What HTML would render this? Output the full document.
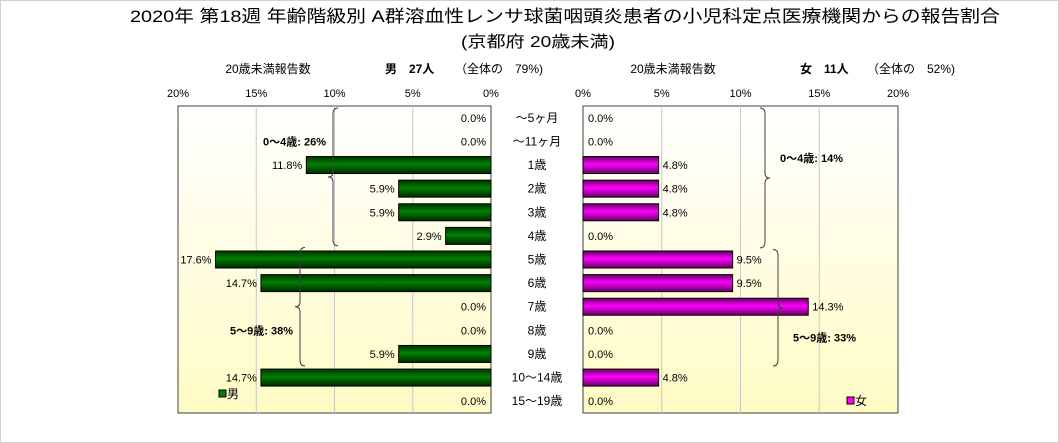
<!DOCTYPE html>
<html><head><meta charset="utf-8">
<style>
body{margin:0;background:#fff;}
svg{display:block;font-family:"Liberation Sans","Noto Sans CJK JP",sans-serif;}
</style></head>
<body>
<svg id="c" width="1059" height="443" viewBox="0 0 1059 443" xmlns="http://www.w3.org/2000/svg">
<defs>
<linearGradient id="bg" x1="0" y1="0" x2="0" y2="1"><stop offset="0" stop-color="#ffffff"/><stop offset="1" stop-color="#fffbc4"/></linearGradient>
<linearGradient id="gm" x1="0" y1="0" x2="0" y2="1"><stop offset="0" stop-color="#003300"/><stop offset="0.45" stop-color="#008000"/><stop offset="1" stop-color="#002800"/></linearGradient>
<linearGradient id="gf" x1="0" y1="0" x2="0" y2="1"><stop offset="0" stop-color="#660066"/><stop offset="0.45" stop-color="#ff00ff"/><stop offset="1" stop-color="#660066"/></linearGradient>
</defs>
<rect x="0.5" y="0.5" width="1058" height="442" fill="none" stroke="#d0d0d0"/>
<text x="565" y="22" font-size="17" text-anchor="middle" textLength="870" lengthAdjust="spacingAndGlyphs">2020年 第18週 年齢階級別 A群溶血性レンサ球菌咽頭炎患者の小児科定点医療機関からの報告割合</text>
<text x="538" y="47" font-size="16" text-anchor="middle" textLength="154" lengthAdjust="spacingAndGlyphs">(京都府 20歳未満)</text>
<text x="268" y="73" font-size="12" text-anchor="middle">20歳未満報告数</text>
<text x="385" y="73" font-size="12" font-weight="bold">男　27人</text>
<text x="455" y="73" font-size="12">（全体の　79%)</text>
<text x="673" y="73" font-size="12" text-anchor="middle">20歳未満報告数</text>
<text x="800" y="73" font-size="12" font-weight="bold">女　11人</text>
<text x="867" y="73" font-size="12">（全体の　52%)</text>
<g id="g"></g>
</svg>
<script>
const categories=["～5ヶ月","～11ヶ月","1歳","2歳","3歳","4歳","5歳","6歳","7歳","8歳","9歳","10～14歳","15～19歳"];
const maleValues=[0,0,11.8,5.9,5.9,2.9,17.6,14.7,0,0,5.9,14.7,0];
const femaleValues=[0,0,4.8,4.8,4.8,0,9.5,9.5,14.3,0,0,4.8,0];
const tickValues=[0,5,10,15,20];
const tickLabels=["0%","5%","10%","15%","20%"];
const groupLabelsMale=["0～4歳: 26%","5～9歳: 38%"];
const groupLabelsFemale=["0～4歳: 14%","5～9歳: 33%"];

const NS="http://www.w3.org/2000/svg";
const g=document.getElementById('g');
function mk(t,a,txt){const e=document.createElementNS(NS,t);for(const k in a)e.setAttribute(k,a[k]);if(txt!==undefined)e.textContent=txt;g.appendChild(e);return e;}
const pTop=106,pBot=413,rowH=(pBot-pTop)/categories.length;
const L0=491,LW=313/20, R0=583,RW=315/20;
const xl=v=>L0-v*LW, xr=v=>R0+v*RW, yc=i=>pTop+rowH*(i+0.5);
let e;
e=mk('rect',{x:178,y:pTop,width:313,height:pBot-pTop,fill:'url(#bg)',stroke:'#404040'});


e=mk('rect',{x:R0,y:pTop,width:315,height:pBot-pTop,fill:'url(#bg)',stroke:'#404040'});


tickValues.forEach((v,i)=>{
  if(v>0&&v<20){
    e=mk('line',{x1:xl(v),x2:xl(v),y1:pTop,y2:pBot,stroke:'#c8c8c8'});
    
    
    e=mk('line',{x1:xr(v),x2:xr(v),y1:pTop,y2:pBot,stroke:'#c8c8c8'});
    
    
  }
  e=mk('text',{x:xl(v),y:97,'font-size':11,'text-anchor':'middle'},tickLabels[i]);
  
  
  e=mk('text',{x:xr(v),y:97,'font-size':11,'text-anchor':'middle'},tickLabels[i]);
  
  
});
const bh=17;
categories.forEach((c,i)=>{
  const y=yc(i);
  e=mk('text',{x:537,y:y+4,'font-size':12,'text-anchor':'middle'},c);
  
  
  const m=maleValues[i];
  if(m>0){e=mk('rect',{x:xl(m),y:y-bh/2,width:m*LW,height:bh,fill:'url(#gm)',stroke:'#000'});
    
    }
  e=mk('text',{x:m>0?xl(m)-4:486,y:y+4,'font-size':11,'text-anchor':'end'},m.toFixed(1)+'%');
  
  
  const f=femaleValues[i];
  if(f>0){e=mk('rect',{x:R0,y:y-bh/2,width:f*RW,height:bh,fill:'url(#gf)',stroke:'#000'});
    
    }
  e=mk('text',{x:f>0?xr(f)+4:R0+5,y:y+4,'font-size':11},f.toFixed(1)+'%');
  
  
});
function brace(x,y1,y2,dir,name){
  const m=(y1+y2)/2,d=5*dir;
  e=mk('path',{d:`M${x+d},${y1} Q${x},${y1} ${x},${y1+6} L${x},${m-5} Q${x},${m} ${x-d},${m} Q${x},${m} ${x},${m+5} L${x},${y2-6} Q${x},${y2} ${x+d},${y2}`,fill:'none',stroke:'#404040'});
  
  
}
brace(333,pTop+2,yc(5)+10,1,'male-0-4-brace');
brace(300,yc(6)-12,yc(10)+12,1,'male-5-9-brace');
brace(765,pTop+2,yc(5)+12,-1,'female-0-4-brace');
brace(778,yc(6)-10,yc(10)+12,-1,'female-5-9-brace');
e=mk('text',{x:326,y:yc(1)+4,'font-size':11,'font-weight':'bold','text-anchor':'end'},groupLabelsMale[0]);


e=mk('text',{x:293,y:yc(9)+4,'font-size':11,'font-weight':'bold','text-anchor':'end'},groupLabelsMale[1]);


e=mk('text',{x:780,y:yc(2)-3,'font-size':11,'font-weight':'bold'},groupLabelsFemale[0]);


e=mk('text',{x:793,y:yc(9)+11,'font-size':11,'font-weight':'bold'},groupLabelsFemale[1]);


e=mk('rect',{x:219,y:390,width:7,height:7,fill:'#008000',stroke:'#000'});


e=mk('text',{x:227,y:398,'font-size':12},'男');


e=mk('rect',{x:847,y:397,width:7,height:7,fill:'#ff00ff',stroke:'#000'});


e=mk('text',{x:855,y:405,'font-size':12},'女');


</script>
</body></html>
